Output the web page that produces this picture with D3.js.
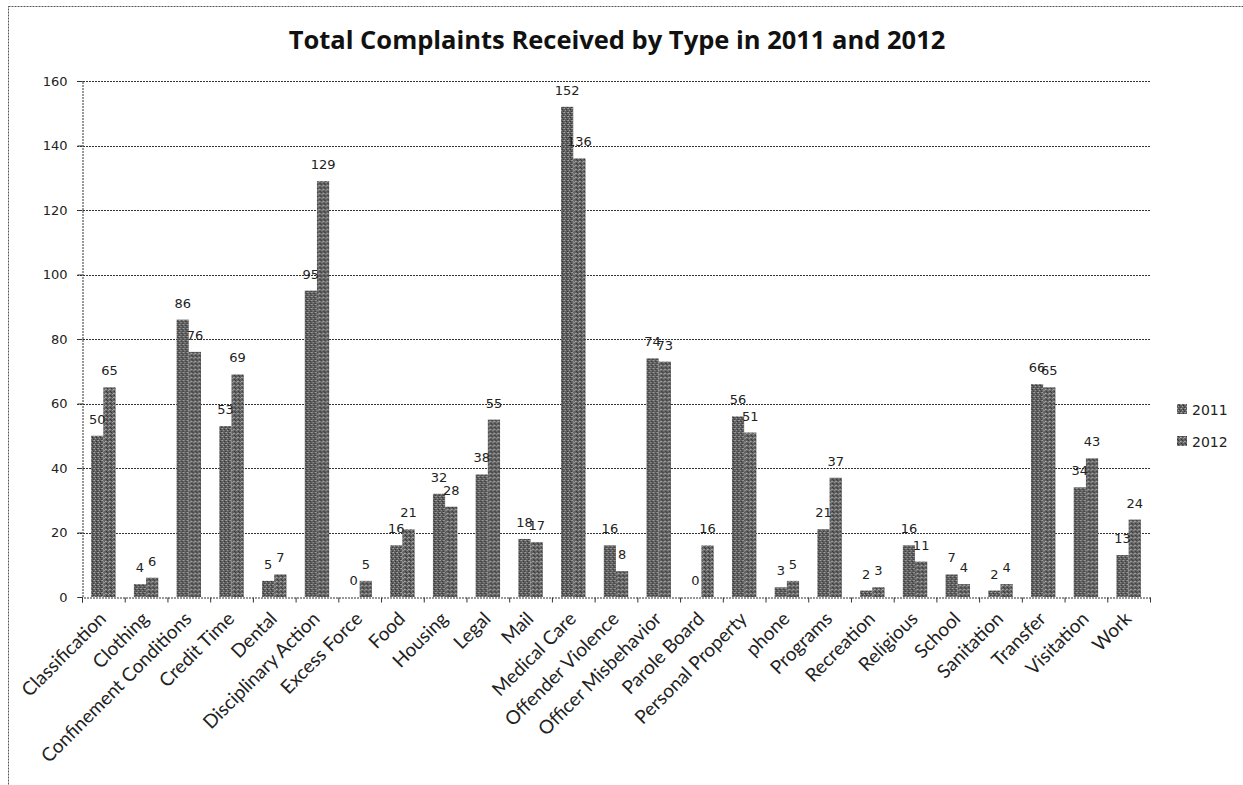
<!DOCTYPE html>
<html>
<head>
<meta charset="utf-8">
<script src="https://cdn.jsdelivr.net/npm/d3@7/dist/d3.min.js"></script>
<style>
  html, body { margin: 0; padding: 0; background: #fff; }
  svg { display: block; }
</style>
</head>
<body>
<svg id="chart" width="1243" height="785"></svg>
<script>
// Complaint categories and yearly totals
const categories = [
  "Classification", "Clothing", "Confinement Conditions", "Credit Time", "Dental",
  "Disciplinary Action", "Excess Force", "Food", "Housing", "Legal", "Mail",
  "Medical Care", "Offender Violence", "Officer Misbehavior", "Parole Board",
  "Personal Property", "phone", "Programs", "Recreation", "Religious", "School",
  "Sanitation", "Transfer", "Visitation", "Work"
];
const values2011 = [50, 4, 86, 53, 5, 95, 0, 16, 32, 38, 18, 152, 16, 74, 0, 56, 3, 21, 2, 16, 7, 2, 66, 34, 13];
const values2012 = [65, 6, 76, 69, 7, 129, 5, 21, 28, 55, 17, 136, 8, 73, 16, 51, 5, 37, 3, 11, 4, 4, 65, 43, 24];
const seriesNames = ["2011", "2012"];
const yTicks = [0, 20, 40, 60, 80, 100, 120, 140, 160];
const titleText = "Total Complaints Received by Type in 2011 and 2012";

const svg = d3.select("#chart");

// Textured grey fills for the two series
const defs = svg.append("defs");
function makePattern(id, base, dots) {
  const p = defs.append("pattern").attr("id", id)
    .attr("width", 4).attr("height", 4).attr("patternUnits", "userSpaceOnUse");
  p.append("rect").attr("width", 4).attr("height", 4).attr("fill", base);
  dots.forEach(d => p.append("rect").attr("x", d[0]).attr("y", d[1])
    .attr("width", 1).attr("height", 1).attr("fill", d[2]));
}
makePattern("fill2011", "#5e5e5e", [[0,0,"#a8a8a8"],[2,1,"#303030"],[1,2,"#a0a0a0"],[3,3,"#383838"],[3,0,"#8a8a8a"]]);
makePattern("fill2012", "#646464", [[1,0,"#363636"],[3,1,"#acacac"],[0,3,"#323232"],[2,2,"#989898"],[0,1,"#909090"]]);
const fills = ["url(#fill2011)", "url(#fill2012)"];

// Outer chart frame
svg.append("rect")
  .attr("x", 8.5).attr("y", 6.5).attr("width", 1260).attr("height", 800)
  .attr("fill", "none").attr("stroke", "#555").attr("stroke-dasharray", "2,1");

const plot = { left: 82, right: 1150, top: 81, bottom: 597 };

const x = d3.scaleBand().domain(categories).range([plot.left, plot.right]).padding(0);
const xs = d3.scaleBand().domain(seriesNames)
  .range([0, x.bandwidth()]).paddingInner(0).paddingOuter(0.75);
const y = d3.scaleLinear().domain([0, 160]).range([plot.bottom, plot.top]);

// Title
svg.append("text")
  .attr("x", 617).attr("y", 49)
  .attr("text-anchor", "middle")
  .attr("font-family", "'Open Sans', sans-serif")
  .attr("font-weight", "bold").attr("font-size", 25.5)
  .attr("fill", "#111")
  .text(titleText);

// Horizontal gridlines
svg.append("g").selectAll("line").data(yTicks.filter(d => d > 0)).join("line")
  .attr("x1", plot.left - 5).attr("x2", plot.right)
  .attr("y1", d => Math.round(y(d)) + 0.5).attr("y2", d => Math.round(y(d)) + 0.5)
  .attr("stroke", "#333").attr("stroke-dasharray", "2,1");

// Y axis
const yAxis = svg.append("g")
  .attr("transform", `translate(${plot.left + 0.5},0)`)
  .call(d3.axisLeft(y).tickValues(yTicks).tickSize(5).tickPadding(10));
yAxis.select(".domain").attr("stroke", "#333").attr("stroke-dasharray", "2,1");
yAxis.selectAll(".tick line").attr("stroke", "#333");
yAxis.selectAll(".tick text")
  .attr("font-family", "'DejaVu Sans', sans-serif").attr("font-size", 13).attr("fill", "#222");

// Bars
const groups = svg.append("g").selectAll("g").data(categories).join("g")
  .attr("transform", d => `translate(${x(d)},0)`);
seriesNames.forEach((s, si) => {
  const vals = si === 0 ? values2011 : values2012;
  groups.append("rect")
    .attr("x", xs(s))
    .attr("width", xs.bandwidth())
    .attr("y", (d, i) => y(vals[i]))
    .attr("height", (d, i) => y(0) - y(vals[i]))
    .attr("fill", fills[si]);
});

// Value labels
seriesNames.forEach((s, si) => {
  const vals = si === 0 ? values2011 : values2012;
  groups.append("text")
    .attr("x", xs(s) + xs.bandwidth() / 2)
    .attr("y", (d, i) => y(vals[i]) - 12)
    .attr("text-anchor", "middle")
    .attr("font-family", "'DejaVu Sans', sans-serif").attr("font-size", 13)
    .attr("fill", "#222")
    .text((d, i) => vals[i]);
});

// X axis
const xAxis = svg.append("g")
  .attr("transform", `translate(0,${plot.bottom + 0.5})`)
  .call(d3.axisBottom(x).tickSize(5).tickFormat(""));
xAxis.select(".domain").attr("stroke", "#333").attr("stroke-dasharray", "2,1");
xAxis.selectAll(".tick").attr("transform", d => `translate(${x(d) + 0.5},0)`);
xAxis.selectAll(".tick line").attr("stroke", "#333");
// boundary tick at the right end
xAxis.append("line").attr("x1", plot.right + 0.5).attr("x2", plot.right + 0.5)
  .attr("y1", 0).attr("y2", 5).attr("stroke", "#333");

// Rotated category labels
svg.append("g").selectAll("text").data(categories).join("text")
  .attr("transform", d => `translate(${x(d) + x.bandwidth() / 2 + 4},${plot.bottom + 23}) rotate(-45)`)
  .attr("text-anchor", "end")
  .attr("font-family", "Lato, sans-serif").attr("font-size", 19)
  .attr("fill", "#222")
  .text(d => d);

// Legend
const legend = svg.append("g").attr("transform", "translate(1177,404)");
seriesNames.forEach((s, i) => {
  const g = legend.append("g").attr("transform", `translate(0,${i * 32})`);
  g.append("rect").attr("width", 10).attr("height", 10).attr("fill", fills[i]);
  g.append("text").attr("x", 15).attr("y", 11)
    .attr("font-family", "'DejaVu Sans', sans-serif").attr("font-size", 14)
    .attr("fill", "#222").text(s);
});
</script>
</body>
</html>
